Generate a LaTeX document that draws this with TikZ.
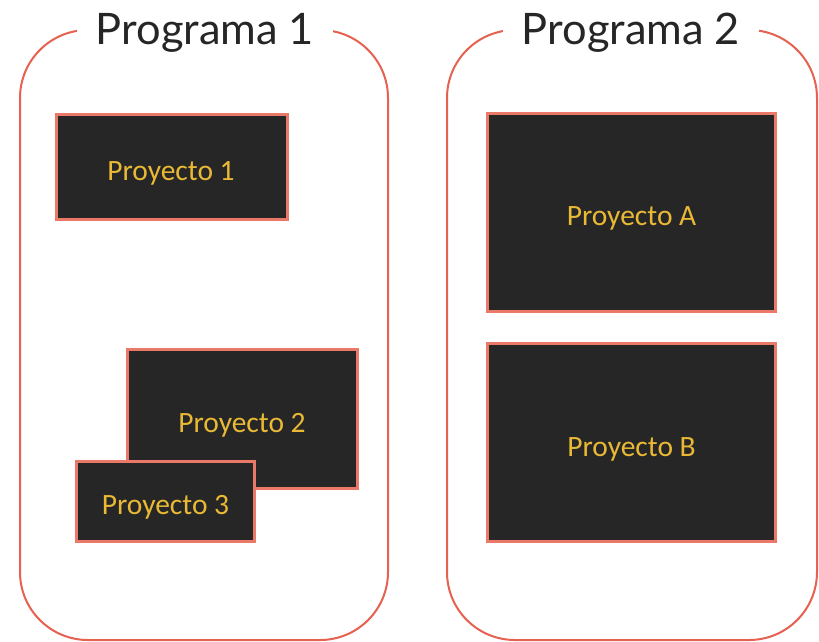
\documentclass[tikz,border=0pt]{standalone}
\usepackage{fontspec}
\setmainfont{Lato}
\newfontfamily\projfont{Carlito}
\definecolor{coral}{HTML}{E6614F}
\definecolor{boxfill}{HTML}{262626}
\definecolor{gold}{HTML}{E9B935}
\definecolor{titlegray}{HTML}{262626}
\tikzset{
  program/.style={draw=coral, line width=2pt, rounded corners=68pt},
  ptitle/.style={fill=white, text=titlegray, font=\fontsize{43.4}{48}\selectfont,
    inner xsep=19pt, inner ysep=2pt, anchor=base},
  project/.style={draw=coral!85!white, line width=2.2pt, fill=boxfill, inner sep=0pt},
  plabel/.style={text=gold, font=\projfont\fontsize{29.5}{34}\selectfont, anchor=base, inner sep=0pt},
}
\begin{document}
\begin{tikzpicture}[x=1pt, y=-1pt]
  \useasboundingbox[fill=white] (0,0) rectangle (819,641);
  % program containers
  \draw[program] (20,30) rectangle (388,640);
  \draw[program] (447,30) rectangle (817,640);
  \node[ptitle] (t1) at (205,44) {Programa 1};
  \node[ptitle] (t2) at (631,44) {Programa 2};
  % projects of programme 1
  \node[project, minimum width=231pt, minimum height=105pt] (p1) at (172,167) {};
  \node[plabel] (l1) at (171,180) {Proyecto 1};
  \node[project, minimum width=230pt, minimum height=139pt] (p2) at (242.5,419) {};
  \node[plabel] (l2) at (242,432) {Proyecto 2};
  \node[project, minimum width=178pt, minimum height=80pt] (p3) at (165.5,501.5) {};
  \node[plabel] (l3) at (165.5,514) {Proyecto 3};
  % projects of programme 2
  \node[project, minimum width=288pt, minimum height=198pt] (pa) at (631.5,212.5) {};
  \node[plabel] (la) at (631.5,225.5) {Proyecto A};
  \node[project, minimum width=288pt, minimum height=198pt] (pb) at (631.5,442.5) {};
  \node[plabel] (lb) at (631.5,456) {Proyecto B};
\end{tikzpicture}
\end{document}
